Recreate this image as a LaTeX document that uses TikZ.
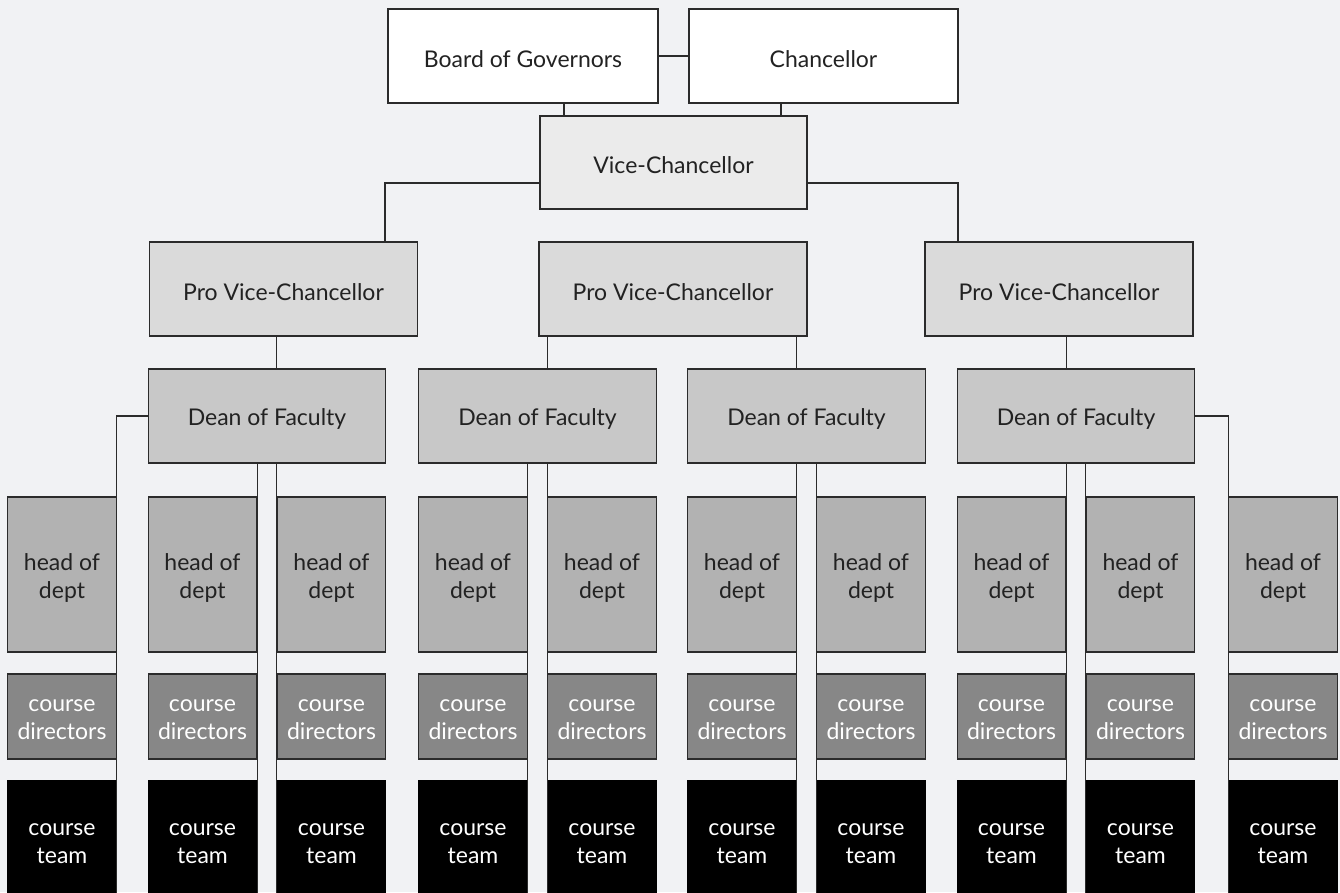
\documentclass[tikz,border=0pt]{standalone}
\usepackage{fontspec}
\setmainfont{Lato}
\definecolor{bgC}{HTML}{F1F2F4}
\definecolor{lineC}{HTML}{2B2B2B}
\definecolor{txtC}{HTML}{222222}
\definecolor{vcC}{HTML}{EBEBEB}
\definecolor{pvcC}{HTML}{DADADA}
\definecolor{deanC}{HTML}{C8C8C8}
\definecolor{headC}{HTML}{B2B2B2}
\definecolor{cdC}{HTML}{878787}
\begin{document}
\begin{tikzpicture}[x=1pt,y=-1pt,
  box/.style={draw=lineC, line width=1.1pt, inner sep=0pt},
  lbl/.style={inner sep=0pt, align=center, text=txtC, yshift=-3pt,
    font=\fontsize{23}{28}\selectfont},
  wlbl/.style={lbl, text=white},
  txt/.style={label={[lbl]center:#1}},
  wtxt/.style={label={[wlbl]center:#1}},
  topbox/.style={box, fill=white, minimum width=270pt, minimum height=94pt, txt=#1},
  vcbox/.style={box, fill=vcC, minimum width=267pt, minimum height=93pt, txt=#1},
  pvcbox/.style={box, fill=pvcC, minimum width=268pt, minimum height=94pt, txt=Pro Vice-Chancellor},
  deanbox/.style={box, fill=deanC, minimum width=237.5pt, minimum height=94pt, txt=Dean of Faculty},
  headbox/.style={box, fill=headC, minimum width=108.5pt, minimum height=155pt, txt={head of\\dept}},
  cdbox/.style={box, fill=cdC, minimum width=108.5pt, minimum height=85pt, wtxt={course\\directors}},
  ctbox/.style={box, fill=black, draw=black, minimum width=108.5pt, minimum height=119pt, wtxt={course\\team}},
  conn/.style={draw=lineC, line width=1.2pt}
]
\useasboundingbox (0,0) rectangle (1340,892);
\fill[bgC] (0,0) rectangle (1340,892);
\clip (0,0) rectangle (1340,892);

\node[topbox={Board of Governors}] (bog) at (523,56) {};
\node[topbox={Chancellor}, minimum width=269pt] (chan) at (823.5,56) {};
\node[vcbox={Vice-Chancellor}] (vc) at (673.5,162.5) {};
\node[pvcbox] (p1) at (283.5,289) {};
\node[pvcbox] (p2) at (673,289) {};
\node[pvcbox] (p3) at (1059,289) {};
\node[deanbox] (d1) at (267,416) {};
\node[deanbox] (d2) at (537.5,416) {};
\node[deanbox] (d3) at (806.5,416) {};
\node[deanbox] (d4) at (1076,416) {};

\foreach \i/\x in {1/62,2/202.5,3/331.5,4/473,5/602,6/742,7/871,8/1011.5,9/1140.5,10/1283}{
  \node[headbox] (h\i) at (\x,574.5) {};
  \node[cdbox] (c\i) at (\x,716.5) {};
  \node[ctbox] (t\i) at (\x,840.5) {};
}

% top connectors
\draw[conn] (bog.east) -- (chan.west);
\draw[conn] ([xshift=41pt]bog.south) -- ([xshift=41pt]bog.south |- vc.north);
\draw[conn] ([xshift=-42.5pt]chan.south) -- ([xshift=-42.5pt]chan.south |- vc.north);
\draw[conn] ([yshift=-20.5pt]vc.west) -| ([xshift=101.5pt]p1.north);
\draw[conn] ([yshift=-20.5pt]vc.east) -| ([xshift=-101pt]p3.north);

% pro vice-chancellors to deans
\draw[conn] (h3.north west |- p1.south) -- (h3.north west |- d1.north);
\draw[conn] (h5.north west |- p2.south) -- (h5.north west |- d2.north);
\draw[conn] (h6.north east |- p2.south) -- (h6.north east |- d3.north);
\draw[conn] (h8.north east |- p3.south) -- (h8.north east |- d4.north);

% deans to departments
\draw[conn] (d1.west) -| (h1.north east) -- (t1.south east);
\draw[conn] (h2.north east |- d1.south) -- (t2.south east);
\draw[conn] (h3.north west |- d1.south) -- (t3.south west);
\draw[conn] (h4.north east |- d2.south) -- (t4.south east);
\draw[conn] (h5.north west |- d2.south) -- (t5.south west);
\draw[conn] (h6.north east |- d3.south) -- (t6.south east);
\draw[conn] (h7.north west |- d3.south) -- (t7.south west);
\draw[conn] (h8.north east |- d4.south) -- (t8.south east);
\draw[conn] (h9.north west |- d4.south) -- (t9.south west);
\draw[conn] (d4.east) -| (h10.north west) -- (t10.south west);
\end{tikzpicture}
\end{document}
